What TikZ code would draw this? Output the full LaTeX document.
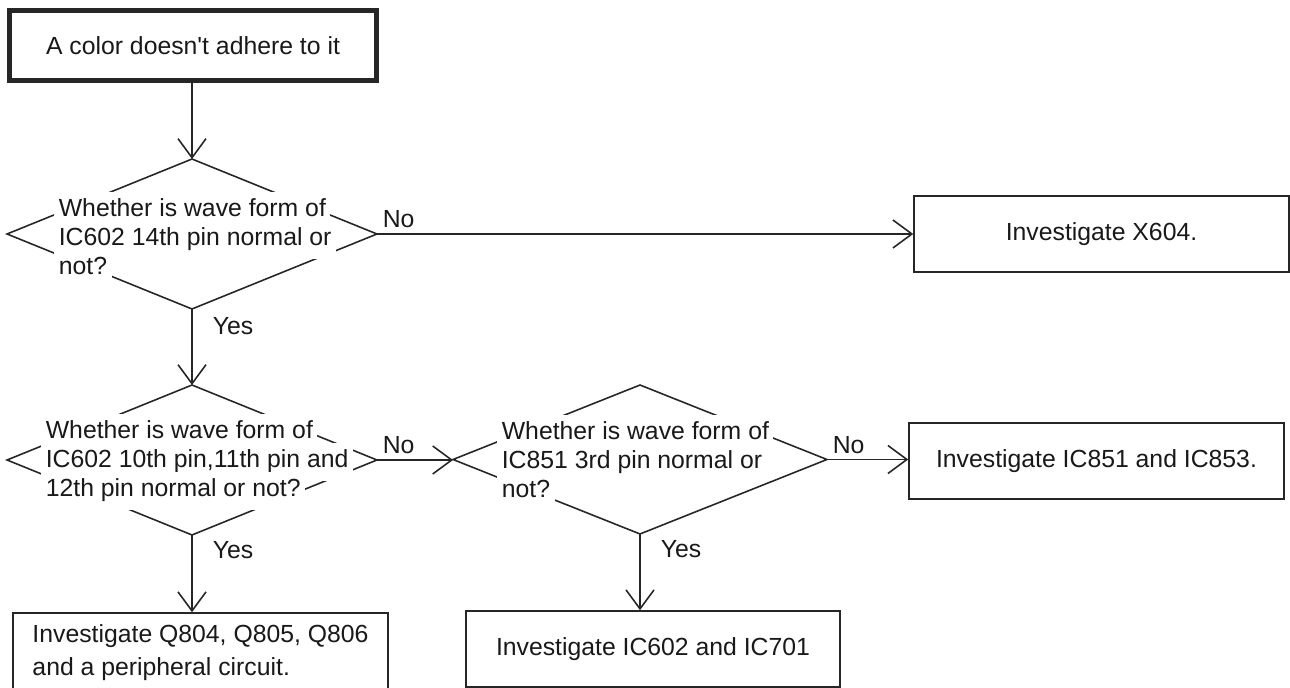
\documentclass[tikz,border=0pt]{standalone}
\usepackage{fontspec}
\setmainfont{Liberation Sans}
\usetikzlibrary{shapes.geometric, arrows.meta, positioning}

\newcommand{\chartfont}{\fontsize{14.1pt}{16.5pt}\selectfont}
\newcommand{\chartfontwide}{\fontsize{14.1pt}{18.7pt}\selectfont}
\newcommand{\maskline}[1]{\colorbox{white}{\strut #1}}

\tikzset{
  startbox/.style={
    draw=black!85, line width=0.1cm, minimum width=7.36cm,
    minimum height=1.4cm, font=\chartfont, text=black!90
  },
  actbox/.style={
    draw=black!85, line width=0.9pt, align=left,
    minimum width=7.5cm, minimum height=1.52cm,
    font=\chartfont, text=black!90
  },
  decshape/.style={
    diamond, draw=black!85, line width=0.9pt, inner sep=0pt,
    outer sep=0pt, minimum width=7.4cm, minimum height=3cm
  },
  dectext/.style={
    anchor=west, align=left, inner sep=0pt, text=black!90,
    font={\chartfont\lineskiplimit=-\maxdimen\fboxsep=0.09cm}
  },
  flowarrow/.style={
    -{Straight Barb[length=0.38cm, width=0.56cm]},
    line width=0.9pt, draw=black!85
  },
  flowlabel/.style={
    font=\chartfont, text=black!90, inner sep=0.1cm
  },
}

\begin{document}
\begin{tikzpicture}[x=0.02cm, y=-0.02cm]
  \useasboundingbox (0,0) rectangle (1290,688);

  % start and the three checks
  \node[startbox] (start) at (193,45.5) {A color doesn\textquotesingle t adhere to it};
  \node[decshape] (q1) at (192,234) {};
  \node[decshape] (q2) at (192,460) {};
  \node[decshape, minimum width=7.48cm, minimum height=2.98cm] (q3) at (640,459.5) {};

  \node[dectext] (q1txt) at (54,240)
    {\maskline{Whether is wave form of}\\\maskline{IC602 14th pin normal or}\\\maskline{not?}};
  \node[dectext] (q2txt) at (41,462)
    {\maskline{Whether is wave form of}\\\maskline{IC602 10th pin,11th pin and}\\\maskline{12th pin normal or not?}};
  \node[dectext] (q3txt) at (497,463)
    {\maskline{Whether is wave form of}\\\maskline{IC851 3rd pin normal or}\\\maskline{not?}};

  % what to investigate
  \node[actbox] (x604) at (1101.5,234) {Investigate X604.};
  \node[actbox] (ic851) at (1096.5,461) {Investigate IC851 and IC853.};
  \node[actbox, minimum height=1.6cm, font=\chartfontwide] (q804) at (200.5,653)
    {Investigate Q804, Q805, Q806\\and a peripheral circuit.};
  \node[actbox, minimum width=7.48cm] (ic602) at (653,649) {Investigate IC602 and IC701};

  % connectors
  \draw[flowarrow] (q1.north |- start.south) -- (q1.north);
  \draw[flowarrow] (q1.east) -- node[flowlabel, pos=0, anchor=south west] (no1) {No} (q1.east -| x604.west);
  \draw[flowarrow] (q1.south) -- node[flowlabel, pos=0.22, right=0.3cm] (yes1) {Yes} (q2.north);
  \draw[flowarrow] (q2.east) -- node[flowlabel, pos=0, anchor=south west] (no2) {No} (q2.east -| q3.west);
  \draw[flowarrow] (q2.south) -- node[flowlabel, pos=0.2, right=0.3cm] (yes2) {Yes} (q2.south |- q804.north);
  \draw[flowarrow] (q3.east) -- node[flowlabel, pos=0, anchor=south west] (no3) {No} (q3.east -| ic851.west);
  \draw[flowarrow] (q3.south) -- node[flowlabel, pos=0.2, right=0.3cm] (yes3) {Yes} (q3.south |- ic602.north);
\end{tikzpicture}
\end{document}
